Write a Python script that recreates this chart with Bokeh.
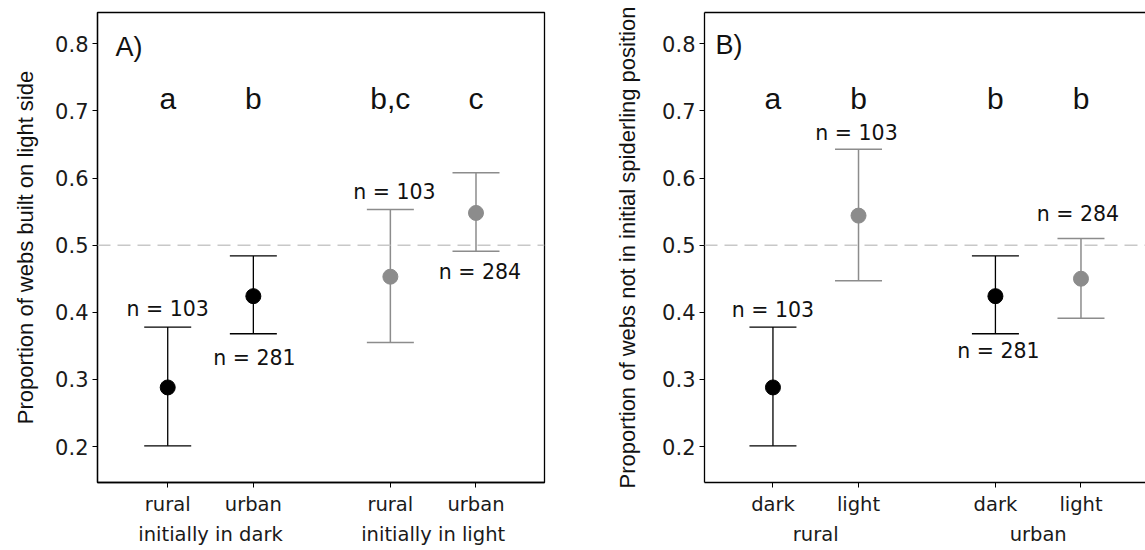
from bokeh.plotting import figure
from bokeh.models import (ColumnDataSource, Whisker, TeeHead, Span, Label,
                          LinearAxis, FixedTicker, Range1d)
from bokeh.layouts import row
from bokeh.embed import file_html
from bokeh.resources import INLINE
from bokeh.core.properties import value

# ---------------- data ----------------
y_ticks = [0.2, 0.3, 0.4, 0.5, 0.6, 0.7, 0.8]
ref_line = 0.5
letter_y = 0.70

# Panel A
a_pos = [1, 2, 3.6, 4.6]
a_tick_labels = ["rural", "urban", "rural", "urban"]
a_group_labels = ["initially in dark", "initially in light"]
a_mean = [0.288, 0.424, 0.453, 0.548]
a_lower = [0.201, 0.368, 0.355, 0.491]
a_upper = [0.378, 0.484, 0.553, 0.608]
a_n = ["n = 103", "n = 281", "n = 103", "n = 284"]
a_letters = ["a", "b", "b,c", "c"]
a_light = [False, False, True, True]
a_ylabel = "Proportion of webs built on light side"

# Panel B
b_pos = [1, 2, 3.6, 4.6]
b_tick_labels = ["dark", "light", "dark", "light"]
b_group_labels = ["rural", "urban"]
b_mean = [0.288, 0.544, 0.424, 0.450]
b_lower = [0.201, 0.447, 0.368, 0.391]
b_upper = [0.378, 0.643, 0.484, 0.510]
b_n = ["n = 103", "n = 103", "n = 281", "n = 284"]
b_letters = ["a", "b", "b", "b"]
b_light = [False, True, False, True]
b_ylabel = "Proportion of webs not in initial spiderling position"

# ---------------- styles ----------------
DARK = "#000000"
LIGHT = "#8c8c8c"
TICK_FONT = "DejaVu Sans"
SANS = "Liberation Sans"
Y_RANGE = (0.1464, 0.8466)
# n-label placement: which end of the bar, pixel y offset, pixel x offset
a_n_style = [("upper", -18, 0), ("lower", 24, 1), ("upper", -18, 4), ("lower", 21, 4)]
b_n_style = [("upper", -17, 0), ("upper", -16, -2), ("lower", 17, 3), ("upper", -24, -3)]
LETTER_DY = -12


def style_plain_axis(ax):
    ax.major_tick_out = 5
    ax.major_tick_in = 0
    ax.minor_tick_out = 0
    ax.minor_tick_in = 0
    ax.major_tick_line_color = "black"
    ax.axis_line_color = "black"
    ax.axis_line_width = 1.3
    ax.major_label_text_font = TICK_FONT
    ax.major_label_text_color = "#1a1a1a"


def make_panel(pos, tick_labels, group_labels, mean, lower, upper, nlab, n_style,
               letters, light, ylabel, tag, width, x_range, min_left, min_right,
               full_box, ylab_standoff, tag_off):
    p = figure(width=width, height=550, output_backend="svg", toolbar_location=None,
               x_range=Range1d(*x_range), y_range=Range1d(*Y_RANGE),
               min_border_left=min_left, min_border_right=min_right,
               min_border_top=12, min_border_bottom=68,
               background_fill_color="white", border_fill_color="white")
    p.grid.visible = False

    # y axis
    ya = p.left[0]
    style_plain_axis(ya)
    ya.ticker = FixedTicker(ticks=y_ticks)
    ya.major_label_text_font_size = "21px"
    ya.major_label_standoff = 4
    ya.axis_label = ylabel
    ya.axis_label_text_font = SANS
    ya.axis_label_text_font_size = "22px"
    ya.axis_label_text_font_style = "normal"
    ya.axis_label_text_color = "#111111"
    ya.axis_label_standoff = ylab_standoff

    # x axis (first level)
    xa = p.below[0]
    style_plain_axis(xa)
    xa.ticker = FixedTicker(ticks=pos)
    xa.major_label_overrides = {x: t for x, t in zip(pos, tick_labels)}
    xa.major_label_text_font_size = "19.5px"
    xa.major_label_standoff = 5

    # x axis (group level)
    centers = [(pos[0] + pos[1]) / 2, (pos[2] + pos[3]) / 2]
    xa2 = LinearAxis(ticker=FixedTicker(ticks=centers),
                     major_label_overrides={c: g for c, g in zip(centers, group_labels)},
                     major_tick_out=0, major_tick_in=0, minor_tick_out=0, minor_tick_in=0,
                     axis_line_color=None, major_label_standoff=4,
                     major_label_text_font=TICK_FONT, major_label_text_font_size="19.5px",
                     major_label_text_color="#1a1a1a")
    p.add_layout(xa2, "below")

    if full_box:
        p.outline_line_color = "black"
        p.outline_line_width = 1.3
    else:
        p.outline_line_color = None
        top = LinearAxis(ticker=FixedTicker(ticks=[]), major_tick_out=0, major_tick_in=0,
                         minor_tick_out=0, minor_tick_in=0,
                         major_label_text_font_size="0px", major_label_standoff=0,
                         axis_line_color="black", axis_line_width=1.3)
        p.add_layout(top, "above")

    # reference line
    p.add_layout(Span(location=ref_line, dimension="width", line_color="#c8c8c8",
                      line_width=1.5, line_dash="13 7"))

    # error bars and points
    for flag, col in ((False, DARK), (True, LIGHT)):
        idx = [i for i in range(len(pos)) if light[i] == flag]
        src = ColumnDataSource(dict(x=[pos[i] for i in idx], y=[mean[i] for i in idx],
                                    lo=[lower[i] for i in idx], hi=[upper[i] for i in idx]))
        lw = 1.3 if not flag else 1.5
        w = Whisker(base="x", lower="lo", upper="hi", source=src,
                    line_color=col, line_width=lw,
                    upper_head=TeeHead(size=47, line_color=col, line_width=lw),
                    lower_head=TeeHead(size=47, line_color=col, line_width=lw))
        p.add_layout(w)
        p.scatter("x", "y", source=src, size=15, color=col, line_color=col)

    # n labels
    for i in range(len(pos)):
        side, dy, dx = n_style[i]
        yv = upper[i] if side == "upper" else lower[i]
        p.text(x=[pos[i]], y=[yv], text=[nlab[i]], text_font=value(TICK_FONT),
               text_font_size="20.5px", text_color="#111111", text_align="center",
               text_baseline="alphabetic", x_offset=dx, y_offset=dy)

    # significance letters
    p.text(x=pos, y=[letter_y] * len(pos), text=letters, text_font=value(SANS),
           text_font_size="30px", text_color="#111111", text_align="center",
           text_baseline="alphabetic", y_offset=LETTER_DY)

    # panel tag
    p.add_layout(Label(x=x_range[0], y=Y_RANGE[1], text=tag, x_offset=tag_off[0],
                       y_offset=tag_off[1], text_font=SANS, text_font_size="27px",
                       text_color="#111111", text_baseline="alphabetic"))
    return p


pA = make_panel(a_pos, a_tick_labels, a_group_labels, a_mean, a_lower, a_upper, a_n,
                a_n_style, a_letters, a_light, a_ylabel, "A)", 600, (0.18, 5.4),
                97, 56, True, 14, (18, -34))
pB = make_panel(b_pos, b_tick_labels, b_group_labels, b_mean, b_lower, b_upper, b_n,
                b_n_style, b_letters, b_light, b_ylabel, "B)", 545, (0.2, 5.354),
                104, 0, False, 19, (11, -32))

layout = row(pA, pB)
open("out.html", "w").write(file_html(layout, INLINE))
